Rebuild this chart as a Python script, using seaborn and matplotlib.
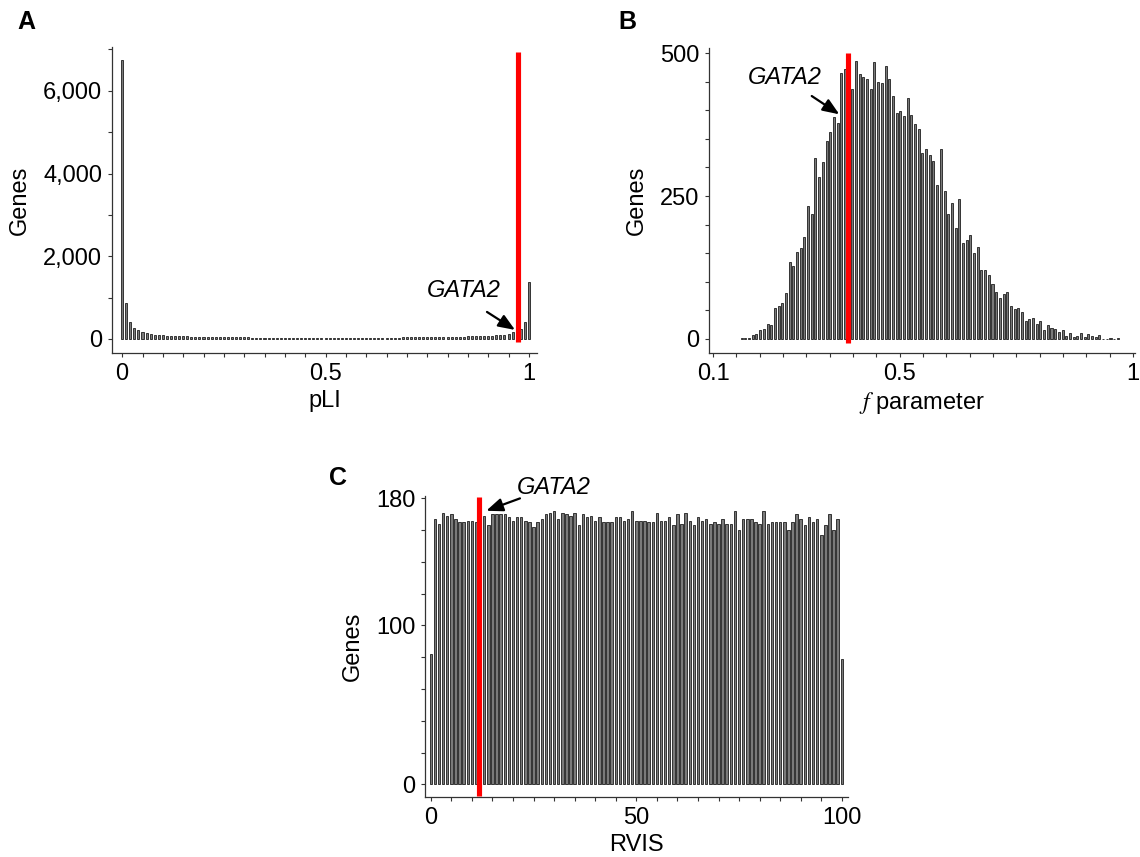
import numpy as np
import matplotlib
matplotlib.use("Agg")
import matplotlib.pyplot as plt
from matplotlib.ticker import MultipleLocator
import seaborn as sns

sns.set_theme(style="ticks")
plt.rcParams['font.family'] = ['Liberation Sans', 'DejaVu Sans']
plt.rcParams['mathtext.fontset'] = 'stix'
plt.rcParams['text.color'] = 'black'
plt.rcParams['axes.labelcolor'] = 'black'
plt.rcParams['xtick.labelcolor'] = 'black'
plt.rcParams['ytick.labelcolor'] = 'black'

# ---------------- data ----------------
# Panel A: pLI histogram (bins of 0.01 from 0 to 1)
pli_bins = np.round(np.arange(0, 101) * 0.01, 2)
pli_counts = [6740, 870, 420, 266, 210, 170, 145, 113, 105, 90,
              88, 82, 78, 72, 68, 65, 60, 58, 55, 52,
              50, 48, 46, 45, 44, 42, 40, 40, 38, 38,
              36, 35, 34, 33, 33, 32, 31, 31, 30, 30,
              29, 29, 28, 28, 27, 27, 27, 26, 26, 26,
              25, 26, 25, 26, 26, 27, 27, 27, 28, 28,
              29, 29, 30, 30, 31, 32, 33, 33, 34, 35,
              36, 37, 38, 39, 40, 42, 43, 45, 46, 48,
              50, 52, 54, 56, 58, 60, 63, 66, 69, 72,
              76, 80, 85, 92, 100, 121, 177, 200, 234, 420,
              1386]
gata2_pli = 0.973
pli_xticks = [0, 0.5, 1]
pli_xticklabels = ['0', '0.5', '1']
pli_yticks = [0, 2000, 4000, 6000]
pli_yticklabels = ['0', '2,000', '4,000', '6,000']

# Panel B: f parameter histogram
f_bins = np.round(0.1615 + 0.0079 * np.arange(103), 4)
f_counts = [1, 1, 2, 7, 8, 16, 17, 26, 24, 54,
            57, 63, 80, 134, 127, 153, 160, 178, 233, 219,
            316, 284, 310, 347, 362, 388, 378, 465, 472, 480,
            438, 487, 463, 459, 455, 437, 484, 450, 448, 477,
            455, 425, 396, 398, 390, 421, 392, 376, 368, 325,
            333, 322, 312, 269, 332, 258, 219, 238, 194, 245,
            168, 173, 182, 150, 161, 121, 121, 112, 97, 83,
            72, 78, 82, 57, 52, 55, 47, 32, 35, 37,
            27, 31, 15, 25, 19, 17, 12, 16, 5, 10,
            3, 6, 10, 4, 8, 6, 3, 7, 0, 0,
            1, 0, 1]
gata2_f = 0.39
f_xticks = [0.1, 0.5, 1.0]
f_xticklabels = ['0.1', '0.5', '1']
f_yticks = [0, 250, 500]
f_yticklabels = ['0', '250', '500']

# Panel C: RVIS percentile histogram
rvis_bins = np.arange(0, 101)
rvis_counts = [82, 167, 164, 171, 169, 170, 167, 165, 165, 166,
               166, 165, 167, 169, 163, 170, 170, 170, 170, 168,
               166, 168, 168, 166, 165, 162, 165, 167, 170, 171,
               172, 167, 171, 170, 169, 171, 163, 170, 168, 169,
               166, 168, 165, 165, 165, 168, 168, 166, 167, 172,
               166, 166, 166, 165, 165, 171, 166, 166, 168, 163,
               170, 164, 171, 166, 163, 168, 166, 167, 164, 165,
               164, 167, 164, 164, 172, 160, 167, 167, 167, 165,
               164, 172, 164, 165, 165, 165, 165, 160, 165, 170,
               167, 163, 168, 165, 167, 157, 163, 170, 160, 167,
               79]
gata2_rvis = 11.8
rvis_xticks = [0, 50, 100]
rvis_xticklabels = ['0', '50', '100']
rvis_yticks = [0, 100, 180]
rvis_yticklabels = ['0', '100', '180']

# ---------------- style ----------------
FS = 17
BAR_FACE = '#7a7a7a'
BAR_EDGE = '#1e1e1e'
SPINE = '#333333'

fig = plt.figure(figsize=(11.4, 8.57), dpi=100)
W, H = 1140, 857


def make_ax(left, top, right, bottom):
    return fig.add_axes([left / W, 1 - bottom / H, (right - left) / W, (bottom - top) / H])


def style_ax(ax, minor_x, minor_y):
    sns.despine(ax=ax)
    for s in ['left', 'bottom']:
        ax.spines[s].set_color(SPINE)
        ax.spines[s].set_linewidth(0.9)
    ax.xaxis.set_minor_locator(MultipleLocator(minor_x))
    ax.yaxis.set_minor_locator(MultipleLocator(minor_y))
    ax.tick_params(which='both', direction='out', length=3, width=0.8,
                   color=SPINE, labelsize=FS, pad=4, labelcolor='black')


def bars(ax, x, y, width):
    sns.barplot(x=x, y=y, native_scale=True, width=width, color=BAR_FACE,
                edgecolor=BAR_EDGE, linewidth=0.6, saturation=1,
                errorbar=None, orient='v', ax=ax)


arrow_kw = dict(arrowstyle='-|>,head_length=0.5,head_width=0.2', color='black',
                lw=1.6, shrinkA=0, shrinkB=0, mutation_scale=20)

# ---------- Panel A ----------
axA = make_ax(112, 47, 537, 353)
bars(axA, pli_bins, pli_counts, 0.5)
axA.vlines(gata2_pli, -80, 6940, color='#ff0000', lw=3.7, zorder=5)
axA.set_xlim(-0.025, 1.02)
axA.set_ylim(-340, 7060)
axA.set_xticks(pli_xticks, pli_xticklabels)
axA.set_yticks(pli_yticks, pli_yticklabels)
style_ax(axA, 0.05, 1000)
axA.set_xlabel('pLI', fontsize=FS, labelpad=4)
axA.set_ylabel('Genes', fontsize=FS, labelpad=9)
axA.text(0.749, 1161, 'GATA2', style='italic', fontsize=FS, ha='left', va='center')
axA.annotate('', xy=(0.966, 218), xytext=(0.897, 653), arrowprops=arrow_kw)

# ---------- Panel B ----------
axB = make_ax(709, 48, 1135, 353)
bars(axB, f_bins, f_counts, 0.55)
axB.vlines(gata2_f, -7, 500, color='#ff0000', lw=3.7, zorder=5)
axB.set_xlim(0.0914, 1.004)
axB.set_ylim(-24.5, 509)
axB.set_xticks(f_xticks, f_xticklabels)
axB.set_yticks(f_yticks, f_yticklabels)
style_ax(axB, 0.05, 50)
axB.set_xlabel(r'$f$ parameter', fontsize=FS, labelpad=4)
axB.set_ylabel('Genes', fontsize=FS, labelpad=9)
axB.text(0.175, 457, 'GATA2', style='italic', fontsize=FS, ha='left', va='center')
axB.annotate('', xy=(0.3706, 393), xytext=(0.3115, 425), arrowprops=arrow_kw)

# ---------- Panel C ----------
axC = make_ax(425, 496, 848, 797)
bars(axC, rvis_bins, rvis_counts, 0.6)
axC.vlines(gata2_rvis, -7.5, 181, color='#ff0000', lw=3.7, zorder=5)
axC.set_xlim(-1.4, 101.5)
axC.set_ylim(-8, 181.5)
axC.set_xticks(rvis_xticks, rvis_xticklabels)
axC.set_yticks(rvis_yticks, rvis_yticklabels)
style_ax(axC, 5, 20)
axC.set_xlabel('RVIS', fontsize=FS, labelpad=4)
axC.set_ylabel('Genes', fontsize=FS, labelpad=9)
axC.text(20.9, 187, 'GATA2', style='italic', fontsize=FS, ha='left', va='center', clip_on=False)
axC.annotate('', xy=(13.5, 172.2), xytext=(21.7, 180), arrowprops=arrow_kw, annotation_clip=False)

# panel letters
for letter, (px, py) in zip(['A', 'B', 'C'], [(26, 22), (627, 22), (338, 478)]):
    fig.text(px / W, 1 - py / H, letter, fontsize=18, fontweight='bold',
             ha='center', va='center')

fig.savefig('out.png', dpi=100)
